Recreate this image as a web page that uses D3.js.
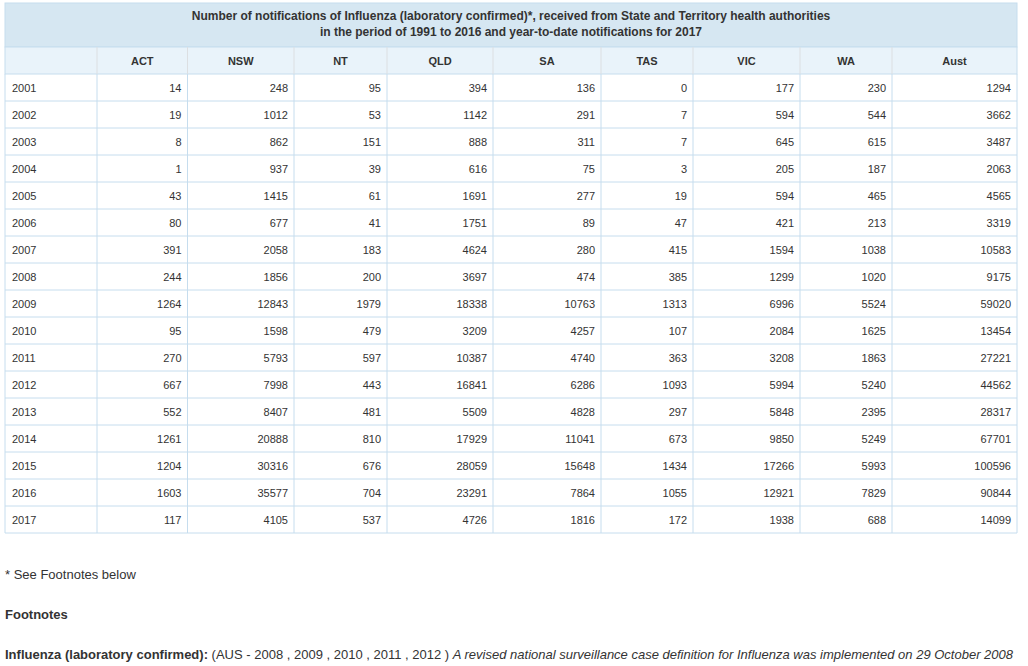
<!DOCTYPE html>
<html><head><meta charset="utf-8">
<script src="https://cdn.jsdelivr.net/npm/d3@7"></script>
<style>
body{margin:0;background:#fff;font-family:"Liberation Sans",Arial,sans-serif;}
svg{display:block;}
</style></head>
<body>
<svg id="c" width="1028" height="666"></svg>
<script>
const titleLines = ["Number of notifications of Influenza (laboratory confirmed)*, received from State and Territory health authorities",
  "in the period of 1991 to 2016 and year-to-date notifications for 2017"];
const columns = ["ACT","NSW","NT","QLD","SA","TAS","VIC","WA","Aust"];
const years = [2001,2002,2003,2004,2005,2006,2007,2008,2009,2010,2011,2012,2013,2014,2015,2016,2017];
const ACT  = [14,19,8,1,43,80,391,244,1264,95,270,667,552,1261,1204,1603,117];
const NSW  = [248,1012,862,937,1415,677,2058,1856,12843,1598,5793,7998,8407,20888,30316,35577,4105];
const NT   = [95,53,151,39,61,41,183,200,1979,479,597,443,481,810,676,704,537];
const QLD  = [394,1142,888,616,1691,1751,4624,3697,18338,3209,10387,16841,5509,17929,28059,23291,4726];
const SA   = [136,291,311,75,277,89,280,474,10763,4257,4740,6286,4828,11041,15648,7864,1816];
const TAS  = [0,7,7,3,19,47,415,385,1313,107,363,1093,297,673,1434,1055,172];
const VIC  = [177,594,645,205,594,421,1594,1299,6996,2084,3208,5994,5848,9850,17266,12921,1938];
const WA   = [230,544,615,187,465,213,1038,1020,5524,1625,1863,5240,2395,5249,5993,7829,688];
const Aust = [1294,3662,3487,2063,4565,3319,10583,9175,59020,13454,27221,44562,28317,67701,100596,90844,14099];
const footStar = "* See Footnotes below";
const footHead = "Footnotes";
const footBold = "Influenza (laboratory confirmed):";
const footPlain = " (AUS - 2008 , 2009 , 2010 , 2011 , 2012 ) ";
const footItalic = "A revised national surveillance case definition for Influenza was implemented on 29 October 2008";

const series = {ACT,NSW,NT,QLD,SA,TAS,VIC,WA,Aust};

const svg = d3.select("#c");
const edges = [5,97,187.5,294,387,493,601,693,800,892,1017];
const keys = ["Year"].concat(columns);
const xL = d3.scaleOrdinal().domain(keys).range(edges.slice(0,-1));
const xR = d3.scaleOrdinal().domain(keys).range(edges.slice(1));
const y = d3.scaleBand().domain(years).range([74,533]).padding(0);

const border = "#c6ddee";
const txt = "#333";
const left = edges[0], right = edges[edges.length-1];

// title row
svg.append("rect").attr("x",left).attr("y",3).attr("width",right-left).attr("height",44)
  .attr("fill","#d6e7f2").attr("stroke",border);
svg.selectAll(".tt").data(titleLines).join("text")
  .attr("x",(left+right)/2).attr("y",(d,i)=>20+i*16)
  .attr("text-anchor","middle").attr("font-size","12px").attr("font-weight","bold")
  .attr("fill",txt).text(d=>d);

// header row
svg.append("rect").attr("x",left).attr("y",47).attr("width",right-left).attr("height",27)
  .attr("fill","#e9f3fa").attr("stroke",border);
svg.selectAll(".hsep").data(keys.slice(1)).join("line")
  .attr("x1",d=>xL(d)).attr("x2",d=>xL(d)).attr("y1",47).attr("y2",74)
  .attr("stroke","#dcdfe2");
svg.selectAll(".ht").data(columns).join("text")
  .attr("x",d=>(xL(d)+xR(d))/2).attr("y",64.5)
  .attr("text-anchor","middle").attr("font-size","11px").attr("font-weight","bold")
  .attr("fill",txt).text(d=>d);

// data rows
const g = svg.append("g");
g.selectAll(".rl").data(years).join("line")
  .attr("x1",left).attr("x2",right).attr("y1",d=>y(d)+y.bandwidth()).attr("y2",d=>y(d)+y.bandwidth())
  .attr("stroke",border);
g.selectAll(".cl").data(edges).join("line")
  .attr("x1",d=>d).attr("x2",d=>d).attr("y1",74).attr("y2",533)
  .attr("stroke",border);
g.selectAll(".yt").data(years).join("text")
  .attr("x",xL("Year")+7).attr("y",d=>y(d)+y.bandwidth()/2+4)
  .attr("font-size","11px").attr("fill",txt).text(d=>d);
columns.forEach(c=>{
  g.selectAll(".v"+c).data(series[c]).join("text")
    .attr("x",xR(c)-6).attr("y",(d,i)=>y(years[i])+y.bandwidth()/2+4)
    .attr("text-anchor","end").attr("font-size","11px").attr("fill",txt).text(d=>d);
});

// footnotes
svg.append("text").attr("x",5).attr("y",579).attr("font-size","13px").attr("fill",txt).text(footStar);
svg.append("text").attr("x",5).attr("y",619).attr("font-size","13px").attr("font-weight","bold").attr("fill",txt).text(footHead);
const ft = svg.append("text").attr("x",5).attr("y",659).attr("font-size","13px").attr("fill",txt);
ft.append("tspan").attr("font-weight","bold").text(footBold);
ft.append("tspan").text(footPlain);
ft.append("tspan").attr("font-style","italic").text(footItalic);
</script>
</body></html>
